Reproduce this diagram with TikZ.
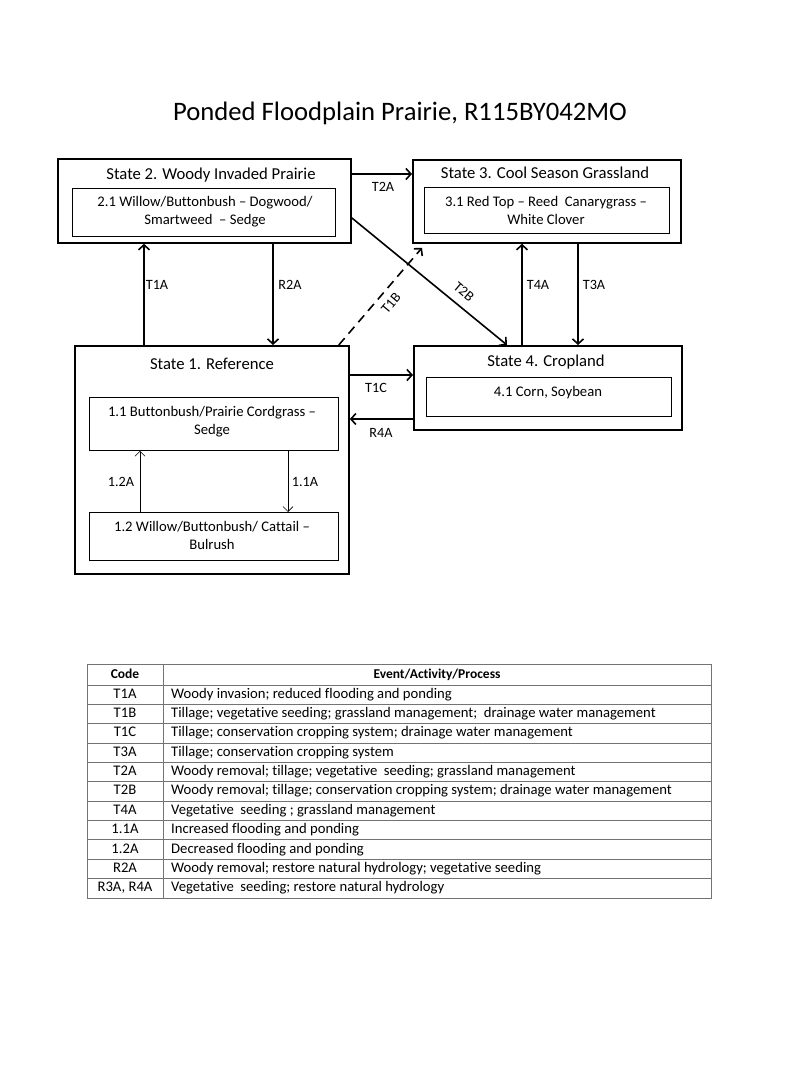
\documentclass[tikz,border=0pt]{standalone}
\usepackage{fontspec}
\setmainfont{Carlito}[Ligatures=NoCommon]
\usetikzlibrary{arrows.meta}
\begin{document}
\begin{tikzpicture}[x=1pt,y=-1pt,
  statebox/.style={draw, line width=1.8pt, inner sep=0pt, anchor=north west},
  phasebox/.style={draw, line width=0.8pt, inner sep=0pt, anchor=north west},
  statetitle/.style={font=\fontsize{16.67}{18}\selectfont, inner sep=0pt},
  phasetext/.style={font=\fontsize{14.67}{18}\selectfont, align=center, inner sep=0pt},
  lbl/.style={font=\fontsize{14.2}{16}\selectfont, inner sep=0pt},
  arr/.style={line width=1.6pt, -{Straight Barb[length=5pt,width=11pt,line width=1.6pt]}},
  thinarr/.style={line width=0.6pt, -{Straight Barb[length=5pt,width=10pt,line width=0.6pt]}},
  cell/.style={font=\fontsize{14.67}{16}\selectfont, inner sep=0pt, text height=10pt, text depth=3pt},
  grid/.style={draw=black!55, line width=0.8pt}
]
\useasboundingbox (0,0) rectangle (800,1067);
\fill[white] (0,0) rectangle (800,1067);

% title
\node[font=\fontsize{26.67}{30}\selectfont, inner sep=0pt] (title) at (400,113) {Ponded Floodplain Prairie, R115BY042MO};

% state boxes
\node[statebox, minimum width=293pt, minimum height=84pt] (s2) at (57,158) {};
\node[statebox, minimum width=268pt, minimum height=83pt] (s3) at (412,159) {};
\node[statebox, minimum width=274pt, minimum height=228pt] (s1) at (74,345) {};
\node[statebox, minimum width=268pt, minimum height=84pt] (s4) at (413,345) {};

% phase boxes
\node[phasebox, minimum width=263pt, minimum height=48pt] (p21) at (72,188) {};
\node[phasebox, minimum width=245pt, minimum height=46pt] (p31) at (424,187) {};
\node[phasebox, minimum width=249pt, minimum height=53pt] (p11) at (89,397) {};
\node[phasebox, minimum width=249pt, minimum height=48pt] (p12) at (89,512) {};
\node[phasebox, minimum width=245pt, minimum height=39pt] (p41) at (426,377) {};

% titles
\node[statetitle] (s2t) at (211,175) {State 2. Woody Invaded Prairie};
\node[statetitle] (s3t) at (545,173) {State 3. Cool Season Grassland};
\node[statetitle] (s1t) at (212,364) {State 1. Reference};
\node[statetitle] (s4t) at (546,362) {State 4. Cropland};

% phase texts
\node[phasetext] (p21t) at (205,212) {2.1 Willow/Buttonbush – Dogwood/\\Smartweed~ – Sedge};
\node[phasetext] (p31t) at (546,210.5) {3.1 Red Top – Reed~ Canarygrass –\\White Clover};
\node[phasetext] (p11t) at (212,421.5) {1.1 Buttonbush/Prairie Cordgrass –\\Sedge};
\node[phasetext] (p12t) at (212,535.5) {1.2 Willow/Buttonbush/ Cattail –\\Bulrush};
\node[phasetext] (p41t) at (548,393) {4.1 Corn, Soybean};

% helper coordinates for vertical arrows
\coordinate (xa) at (144,0);
\coordinate (xb) at (273,0);
\coordinate (xc) at (522,0);
\coordinate (xd) at (578,0);
\coordinate (xe) at (140,0);
\coordinate (xf) at (288,0);
\coordinate (ya) at (0,174);
\coordinate (yb) at (0,375);
\coordinate (yc) at (0,419);

% transitions
\draw[arr] (s1.north -| xa) -- (s2.south -| xa);
\draw[arr] (s2.south -| xb) -- (s1.north -| xb);
\draw[arr] (s4.north -| xc) -- (s3.south -| xc);
\draw[arr] (s3.south -| xd) -- (s4.north -| xd);
\draw[arr] (s2.east |- ya) -- (s3.west |- ya);
\draw[arr] (s1.east |- yb) -- (s4.west |- yb);
\draw[arr] (s4.west |- yc) -- (s1.east |- yc);
\draw[arr, dashed, dash pattern=on 9pt off 6pt] ([xshift=-11pt]s1.north east) -- ([xshift=10pt,yshift=-4pt]s3.south west);
\draw[arr] ([yshift=-17pt]s2.east) -- ([xshift=94pt]s4.north west);
\draw[thinarr] (p12.north -| xe) -- (p11.south -| xe);
\draw[thinarr] (p11.south -| xf) -- (p12.north -| xf);

% labels
\node[lbl] (lT1A) at (157,285) {T1A};
\node[lbl] (lR2A) at (290,285) {R2A};
\node[lbl] (lT4A) at (538,285) {T4A};
\node[lbl] (lT3A) at (594,285) {T3A};
\node[lbl] (lT2A) at (383,187) {T2A};
\node[lbl] (lT1C) at (376,388) {T1C};
\node[lbl] (lR4A) at (381,433) {R4A};
\node[lbl, rotate=50] (lT1B) at (391,303) {T1B};
\node[lbl, rotate=-40] (lT2B) at (464,292) {T2B};
\node[lbl] (l12A) at (121,482) {1.2A};
\node[lbl] (l11A) at (305,482) {1.1A};

% table
\def\tl{87}\def\tr{711}\def\tt{664}\def\th{685}\def\rh{19.36}\def\cx{163}
\draw[grid] (\tl,\tt) rectangle (\tr,898);
\draw[grid] (\cx,\tt) -- (\cx,898);
\draw[grid] (\tl,\th) -- (\tr,\th);
\foreach \i in {1,...,10} \draw[grid] (\tl,{\th+\i*\rh}) -- (\tr,{\th+\i*\rh});
\node[cell, font=\fontsize{13.5}{14}\selectfont\bfseries] (hcode) at (125,675) {Code};
\node[cell, font=\fontsize{13.5}{14}\selectfont\bfseries] (hev) at (437,675) {Event/Activity/Process};
\foreach \c/\t [count=\i] in {
  {T1A}/{Woody invasion; reduced flooding and ponding},
  {T1B}/{Tillage; vegetative seeding; grassland management;~ drainage water management},
  {T1C}/{Tillage; conservation cropping system; drainage water management},
  {T3A}/{Tillage; conservation cropping system},
  {T2A}/{Woody removal; tillage; vegetative~ seeding; grassland management},
  {T2B}/{Woody removal; tillage; conservation cropping system; drainage water management},
  {T4A}/{Vegetative~ seeding ; grassland management},
  {1.1A}/{Increased flooding and ponding},
  {1.2A}/{Decreased flooding and ponding},
  {R2A}/{Woody removal; restore natural hydrology; vegetative seeding},
  {R3A, R4A}/{Vegetative~ seeding; restore natural hydrology}}
{
  \node[cell] (code\i) at (125,{\th+(\i-0.5)*\rh}) {\c};
  \node[cell, anchor=west] (ev\i) at (171,{\th+(\i-0.5)*\rh}) {\t};
}
\end{tikzpicture}
\end{document}
